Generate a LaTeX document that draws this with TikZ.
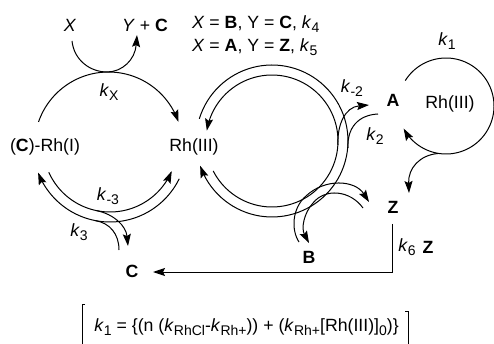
\documentclass[tikz,border=0pt]{standalone}
\usepackage{fontspec}
\setmainfont{Liberation Sans}
\usetikzlibrary{arrows.meta}
\tikzset{
  lab/.style={inner sep=0pt,font=\fontsize{17.7}{20}\selectfont,anchor=center},
  labw/.style={inner sep=0pt,font=\fontsize{17.7}{20}\selectfont,anchor=base west},
  rline/.style={line width=1pt,black},
  arr/.style={rline,-{Stealth[length=12pt,width=8pt,inset=2pt]}},
  ring/.style={samples=90,line join=round},
}
\newcommand{\sbs}[1]{\raisebox{-3.5pt}{\fontsize{14}{14}\selectfont #1}}
\newcommand{\kk}[1]{\textit{k}\sbs{#1}}
\begin{document}
\begin{tikzpicture}[x=1pt,y=-1pt]
\useasboundingbox (0,0) rectangle (494,344);
\node[lab] (X) at (70,25) {\textit{X}};
\node[lab] (YC) at (145,25) {\textit{Y} + \textbf{C}};
\node[labw] (CondA) at (192,29) {\textit{X} = \textbf{B}, Y = \textbf{C}, \kk{4}};
\node[labw] (CondB) at (192,52) {\textit{X} = \textbf{A}, Y = \textbf{Z}, \kk{5}};
\node[lab] (kX) at (109,92) {\kk{X}};
\node[lab] (RhI) at (45,147) {(\textbf{C})-Rh(I)};
\node[lab] (RhM) at (194,147) {Rh(III)};
\node[lab] (km3) at (108,196) {\kk{-3}};
\node[lab] (k3) at (79,232) {\kk{3}};
\node[lab] (C) at (132,271) {\textbf{C}};
\node[lab] (B) at (309,257) {\textbf{B}};
\node[lab] (Z) at (393,207) {\textbf{Z}};
\node[lab] (k6) at (407,247) {\kk{6}};
\node[lab] (Z2) at (428,247) {\textbf{Z}};
\node[lab] (A) at (393,100) {\textbf{A}};
\node[lab] (RhR) at (450,104) {Rh(III)};
\node[lab] (k1) at (447,41) {\kk{1}};
\node[lab] (km2) at (352,88) {\kk{-2}};
\node[lab] (k2) at (375,136) {\kk{2}};
\node[lab] (Eq) at (246.5,327) {\kk{1} = \{(n (\kk{RhCl}-\kk{Rh+})) + (\kk{Rh+}[Rh(III)]\sbs{0})\}};
% brackets
\draw[rline] (85,304) -- (82,304) -- (82,344);
\draw[rline] (405,311) -- (408,311) -- (408,344);
% top-left: X to Y + C over the arc
\coordinate (Xs) at (72,41);
\coordinate (Yt) at (137,35);
\coordinate (Tp) at (107,72);
\draw[arr] (Xs) .. controls (74,60) and (90,72) .. (Tp) .. controls (122,72) and (135,60) .. (Yt);
\draw[arr,ring] plot[domain=199:341] ({108.5+74*cos(\x)},{146+74*sin(\x)});
% bottom-left double arc
\draw[arr,ring] plot[domain=156:23] ({110+67*cos(\x)},{145+67*sin(\x)});
\draw[arr,ring] plot[domain=26:159] ({110+77*cos(\x)},{145+77*sin(\x)});
\coordinate (Li) at (96,210.5);
\coordinate (Ct) at (128,246);
\draw[arr] (Li) .. controls (114,214) and (126,226) .. (Ct);
\coordinate (Lo) at (95,220.5);
\coordinate (Ce) at (119,250);
\draw[rline] (Ce) .. controls (119,234) and (110,223) .. (Lo);
% centre ring
\draw[arr,ring] plot[domain=197:521] ({272+76*cos(\x)},{141+76*sin(\x)});
\draw[arr,ring] plot[domain=153:-171] ({272+66*cos(\x)},{141+66*sin(\x)});
% branches to A
\coordinate (Ai) at (338,145);
\coordinate (At) at (369,105);
\coordinate (Ao) at (348,148);
\coordinate (Ae) at (378,114);
\draw[arr] (Ai) .. controls (337,125) and (345,107) .. (At);
\draw[rline] (Ao) .. controls (347,128) and (358,115) .. (Ae);
% branches B and Z
\coordinate (Bs) at (299,242);
\coordinate (Zt) at (369,202);
\coordinate (Zs) at (363,208);
\coordinate (Bt) at (309,243);
\draw[arr] (Bs) .. controls (291,230) and (292,208) .. (306,196) .. controls (325,178) and (355,180) .. (Zt);
\draw[arr] (Zs) .. controls (350,190) and (325,188) .. (313,203) .. controls (304,213) and (301,228) .. (Bt);
% right loop
\draw[arr,ring] plot[domain=-148:152] ({446+48*cos(\x)},{106+48*sin(\x)});
\coordinate (Rb) at (438,153.5);
\coordinate (Rt) at (409,193);
\draw[arr] (Rb) .. controls (420,155) and (408,168) .. (Rt);
% long arrow
\coordinate (Zc) at (392,224);
\coordinate (Cn) at (392,272);
\coordinate (Ctip) at (153,272);
\draw[arr] (Zc) -- (Cn) -- (Ctip);
\end{tikzpicture}
\end{document}
